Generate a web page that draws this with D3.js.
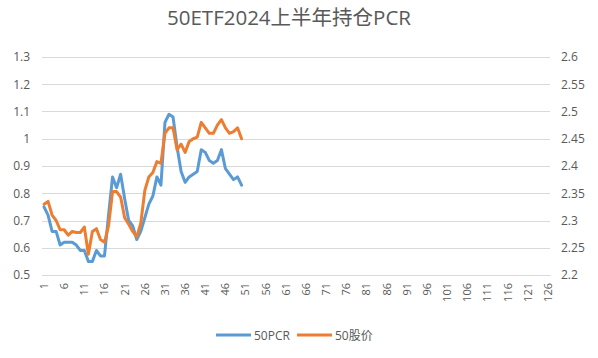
<!DOCTYPE html>
<html><head><meta charset="utf-8">
<script src="https://cdn.jsdelivr.net/npm/d3@7"></script>
<style>
html,body{margin:0;padding:0;background:#fff;}
svg{display:block;}
text{font-family:"Open Sans","Noto Sans CJK SC",sans-serif;fill:#595959;}
</style></head>
<body>
<svg id="c" width="598" height="358"></svg>
<script>
const title = "50ETF2024上半年持仓PCR";
const categories = d3.range(1, 127);
const xTickLabels = d3.range(1, 127, 5);
const leftTicks = [0.5,0.6,0.7,0.8,0.9,1,1.1,1.2,1.3];
const rightTicks = [2.2,2.25,2.3,2.35,2.4,2.45,2.5,2.55,2.6];
const seriesNames = ["50PCR","50股价"];
const pcr = [0.75,0.72,0.66,0.66,0.61,0.62,0.62,0.62,0.61,0.59,
             0.59,0.55,0.55,0.59,0.57,0.57,0.72,0.86,0.82,0.87,
             0.78,0.70,0.68,0.63,0.66,0.71,0.76,0.79,0.86,0.83,
             1.06,1.09,1.08,0.97,0.88,0.84,0.86,0.87,0.88,0.96,
             0.95,0.92,0.91,0.92,0.96,0.89,0.87,0.85,0.86,0.83];
const price = [2.330,2.335,2.310,2.300,2.283,2.283,2.273,2.280,2.278,2.278,
               2.288,2.238,2.280,2.285,2.265,2.260,2.290,2.353,2.353,2.343,
               2.305,2.293,2.280,2.270,2.295,2.355,2.380,2.388,2.408,2.405,
               2.460,2.470,2.470,2.430,2.440,2.425,2.445,2.450,2.453,2.480,
               2.470,2.460,2.460,2.475,2.485,2.470,2.460,2.463,2.470,2.450];
const colors = ["#5B9BD5","#ED7D31"];

const svg = d3.select("#c");
const L = 42, R = 550, T = 57, B = 275;
const x = d3.scaleBand().domain(categories).range([L, R]);
const yL = d3.scaleLinear().domain([0.5,1.3]).range([B, T]);
const yR = d3.scaleLinear().domain([2.2,2.6]).range([B, T]);

svg.append("text").attr("x", 289).attr("y", 25).attr("text-anchor","middle")
  .style("font-size","20.5px").text(title);

// gridlines
svg.append("g").selectAll("line").data(leftTicks).join("line")
  .attr("x1", L).attr("x2", R)
  .attr("y1", d => Math.round(yL(d))+0.5).attr("y2", d => Math.round(yL(d))+0.5)
  .attr("stroke", "#d9d9d9").attr("stroke-width", 1);

// left axis
const gl = svg.append("g").attr("transform", `translate(${L},0)`)
  .call(d3.axisLeft(yL).tickValues(leftTicks).tickSize(0).tickPadding(12).tickFormat(d => String(d)));
gl.select(".domain").remove();
gl.selectAll("text").style("font-size","12px").attr("fill","#595959");

// right axis
const gr = svg.append("g").attr("transform", `translate(${R},0)`)
  .call(d3.axisRight(yR).tickValues(rightTicks).tickSize(0).tickPadding(11).tickFormat(d => String(d)));
gr.select(".domain").remove();
gr.selectAll("text").style("font-size","12px").attr("fill","#595959");

// x axis
const gx = svg.append("g").attr("transform", `translate(0,${B})`)
  .call(d3.axisBottom(x).tickValues(xTickLabels).tickSize(0).tickPadding(0));
gx.select(".domain").attr("stroke","#d9d9d9");
gx.selectAll("text").style("font-size","11px").attr("fill","#595959")
  .attr("text-anchor","end").attr("transform","rotate(-90)")
  .attr("x", -8).attr("y", 0).attr("dy","0.35em");

const cx = i => x(categories[i]) + x.bandwidth()/2;
const lineL = d3.line().x((d,i) => cx(i)).y(d => yL(d));
const lineR = d3.line().x((d,i) => cx(i)).y(d => yR(d));

svg.append("path").datum(pcr).attr("d", lineL).attr("fill","none")
  .attr("stroke", colors[0]).attr("stroke-width", 3).attr("stroke-linejoin","round").attr("stroke-linecap","round");
svg.append("path").datum(price).attr("d", lineR).attr("fill","none")
  .attr("stroke", colors[1]).attr("stroke-width", 3).attr("stroke-linejoin","round").attr("stroke-linecap","round");

// legend
const lg = svg.append("g");
const items = [{x:216, name:seriesNames[0], c:colors[0]},{x:297, name:seriesNames[1], c:colors[1]}];
items.forEach(it => {
  lg.append("line").attr("x1", it.x).attr("x2", it.x+35).attr("y1", 335).attr("y2", 335)
    .attr("stroke", it.c).attr("stroke-width", 3);
  lg.append("text").attr("x", it.x+38).attr("y", 339.5).style("font-size","12px").text(it.name);
});
</script>
</body></html>
